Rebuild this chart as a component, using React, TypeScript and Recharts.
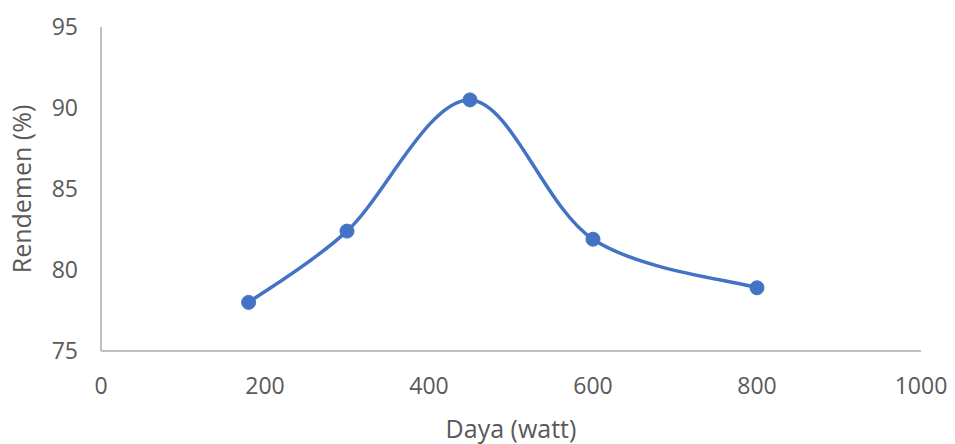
import React from 'react';
import { LineChart, Line, XAxis, YAxis } from 'recharts';

const daya = [180, 300, 450, 600, 800];
const rendemen = [78, 82.4, 90.5, 81.9, 78.9];
const xTicks = [0, 200, 400, 600, 800, 1000];
const yTicks = [75, 80, 85, 90, 95];

const data = daya.map((d, i) => ({ daya: d, rendemen: rendemen[i] }));

// Excel-style smoothed line (Catmull-Rom through every point)
const excelSmooth = (context: any) => {
  let pts: [number, number][] = [];
  return {
    areaStart() {},
    areaEnd() {},
    lineStart() {
      pts = [];
    },
    point(x: number, y: number) {
      pts.push([+x, +y]);
    },
    lineEnd() {
      if (!pts.length) return;
      context.moveTo(pts[0][0], pts[0][1]);
      for (let i = 0; i < pts.length - 1; i++) {
        const p0 = pts[Math.max(i - 1, 0)];
        const p1 = pts[i];
        const p2 = pts[i + 1];
        const p3 = pts[Math.min(i + 2, pts.length - 1)];
        context.bezierCurveTo(
          p1[0] + (p2[0] - p0[0]) / 6,
          p1[1] + (p2[1] - p0[1]) / 6,
          p2[0] - (p3[0] - p1[0]) / 6,
          p2[1] - (p3[1] - p1[1]) / 6,
          p2[0],
          p2[1]
        );
      }
    },
  };
};

const font = '"Open Sans", sans-serif';
const tickStyle = { fill: '#595959', fontSize: 23, fontFamily: font };
const titleStyle = { fill: '#595959', fontSize: 25, fontFamily: font };

export default function App() {
  return (
    <div style={{ position: 'absolute', left: 0, top: 0, background: '#fff' }}>
      <LineChart width={955} height={444} data={data} margin={{ top: 27, right: 34, bottom: 0, left: 0 }}>
        <XAxis
          type="number"
          dataKey="daya"
          domain={[0, 1000]}
          ticks={xTicks}
          tickLine={false}
          axisLine={{ stroke: '#bfbfbf', strokeWidth: 2 }}
          tick={tickStyle}
          tickMargin={21}
          height={93}
          label={{ value: 'Daya (watt)', position: 'insideBottom', offset: 6, style: titleStyle }}
        />
        <YAxis
          type="number"
          domain={[75, 95]}
          ticks={yTicks}
          tickLine={false}
          axisLine={{ stroke: '#bfbfbf', strokeWidth: 2 }}
          tick={tickStyle}
          tickMargin={17}
          width={101}
          label={{ value: 'Rendemen (%)', angle: -90, position: 'insideLeft', offset: 22, style: { ...titleStyle, textAnchor: 'middle' } }}
        />
        <Line
          dataKey="rendemen"
          type={excelSmooth as any}
          stroke="#4472C4"
          strokeWidth={3.5}
          dot={{ r: 7, fill: '#4472C4', stroke: '#4472C4', strokeWidth: 1 }}
          isAnimationActive={false}
        />
      </LineChart>
    </div>
  );
}
